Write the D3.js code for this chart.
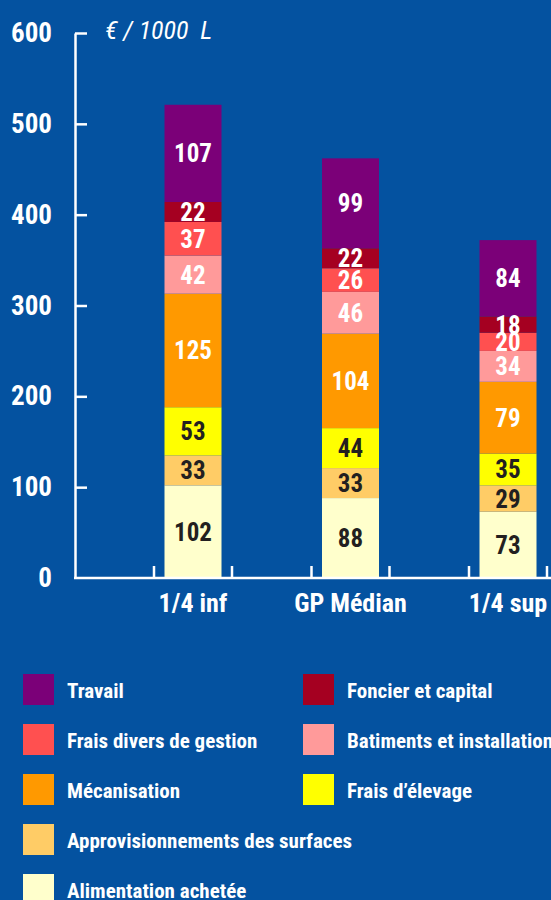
<!DOCTYPE html>
<html>
<head>
<meta charset="utf-8">
<script src="https://cdn.jsdelivr.net/npm/d3@7"></script>
<style>
  body { margin: 0; background: #0452a0; }
  svg { display: block; }
  text { font-family: "Liberation Sans Narrow", "Roboto Condensed", "Arial Narrow", sans-serif; }
</style>
</head>
<body>
<svg width="551" height="900"></svg>
<script>
// data
var categories = ["1/4 inf", "GP Médian", "1/4 sup"];
var seriesNames = ["Alimentation achetée", "Approvisionnements des surfaces", "Frais d\u2019élevage",
  "Mécanisation", "Batiments et installation", "Frais divers de gestion", "Foncier et capital", "Travail"];
var alimentation = [102, 88, 73];
var approvisionnements = [33, 33, 29];
var fraisElevage = [53, 44, 35];
var mecanisation = [125, 104, 79];
var batiments = [42, 46, 34];
var fraisDivers = [37, 26, 20];
var foncier = [22, 22, 18];
var travail = [107, 99, 84];
var yTicks = [0, 100, 200, 300, 400, 500, 600];
var legendOrder = ["Travail", "Foncier et capital", "Frais divers de gestion", "Batiments et installation",
  "Mécanisation", "Frais d\u2019élevage", "Approvisionnements des surfaces", "Alimentation achetée"];

var colors = {
  "Alimentation achetée": "#ffffcc",
  "Approvisionnements des surfaces": "#ffcc66",
  "Frais d\u2019élevage": "#ffff00",
  "Mécanisation": "#ff9900",
  "Batiments et installation": "#ff9a9a",
  "Frais divers de gestion": "#ff5050",
  "Foncier et capital": "#a50021",
  "Travail": "#7b0078"
};
var darkText = ["Alimentation achetée", "Approvisionnements des surfaces", "Frais d\u2019élevage"];

var allSeries = [alimentation, approvisionnements, fraisElevage, mecanisation, batiments, fraisDivers, foncier, travail];
var table = categories.map(function(c, i) {
  var row = { cat: c };
  seriesNames.forEach(function(s, j) { row[s] = allSeries[j][i]; });
  return row;
});

var svg = d3.select("svg");
var axisX = 75, y0 = 578;

var y = d3.scaleLinear().domain([0, 600]).range([y0, 33]);
var x = d3.scalePoint().domain(categories).range([193, 508]);
var barW = 57;

var stack = d3.stack().keys(seriesNames)(table);

// bars
var layers = svg.append("g").selectAll("g")
  .data(stack).enter().append("g")
  .attr("fill", function(d) { return colors[d.key]; });

layers.selectAll("rect")
  .data(function(d) { return d; })
  .enter().append("rect")
  .attr("x", function(d) { return x(d.data.cat) - barW / 2; })
  .attr("y", function(d) { return y(d[1]); })
  .attr("width", barW)
  .attr("height", function(d) { return y(d[0]) - y(d[1]); });

// value labels
stack.forEach(function(layer) {
  svg.append("g").selectAll("text")
    .data(layer).enter().append("text")
    .attr("x", function(d) { return x(d.data.cat); })
    .attr("y", function(d) { return (y(d[0]) + y(d[1])) / 2; })
    .attr("dy", "0.36em")
    .attr("text-anchor", "middle")
    .attr("font-size", "25px")
    .attr("font-weight", "bold")
    .attr("fill", darkText.indexOf(layer.key) >= 0 ? "#231f20" : "#fff")
    .text(function(d) { return d[1] - d[0]; });
});

// y axis
var yaxis = svg.append("g")
  .attr("transform", "translate(" + axisX + ",0)")
  .call(d3.axisLeft(y).tickValues(yTicks).tickSizeInner(-12).tickSizeOuter(0).tickPadding(23));
yaxis.select(".domain").attr("stroke", "#fff").attr("stroke-width", 2.5);
yaxis.selectAll(".tick line").attr("stroke", "#fff").attr("stroke-width", 2.5);
yaxis.selectAll(".tick line").filter(function(d) { return d === 0; }).remove();
yaxis.selectAll(".tick text")
  .attr("fill", "#fff")
  .attr("font-size", "27px")
  .attr("font-weight", "bold")
  .attr("font-family", null);

// x axis
svg.append("line")
  .attr("x1", axisX - 1).attr("x2", 551)
  .attr("y1", y0).attr("y2", y0)
  .attr("stroke", "#fff").attr("stroke-width", 2.5);
var tickOff = [-39, 39];
categories.forEach(function(c) {
  tickOff.forEach(function(o) {
    svg.append("line")
      .attr("x1", x(c) + o).attr("x2", x(c) + o)
      .attr("y1", y0).attr("y2", y0 - 12)
      .attr("stroke", "#fff").attr("stroke-width", 2.5);
  });
});
svg.append("g").selectAll("text")
  .data(categories).enter().append("text")
  .attr("x", function(d) { return x(d); })
  .attr("y", 612)
  .attr("text-anchor", "middle")
  .attr("font-size", "26px")
  .attr("font-weight", "bold")
  .attr("fill", "#fff")
  .text(function(d) { return d; });

// unit
svg.append("text")
  .attr("x", 105)
  .attr("y", 39)
  .attr("font-size", "26px")
  .attr("font-style", "italic")
  .attr("fill", "#fff")
  .style("white-space", "pre")
  .text("\u20ac / 1000  L");

// legend
var legend = svg.append("g").selectAll("g")
  .data(legendOrder).enter().append("g")
  .attr("transform", function(d, i) {
    var col = i < 6 ? i % 2 : 0;
    var row = i < 6 ? Math.floor(i / 2) : i - 3;
    return "translate(" + (23 + col * 280) + "," + (674 + row * 50) + ")";
  });
legend.append("rect")
  .attr("width", 31).attr("height", 31)
  .attr("fill", function(d) { return colors[d]; });
legend.append("text")
  .attr("x", 44)
  .attr("y", 16)
  .attr("dy", "0.36em")
  .attr("font-size", "21px")
  .attr("font-weight", "bold")
  .attr("fill", "#fff")
  .text(function(d) { return d; });
</script>
</body>
</html>
